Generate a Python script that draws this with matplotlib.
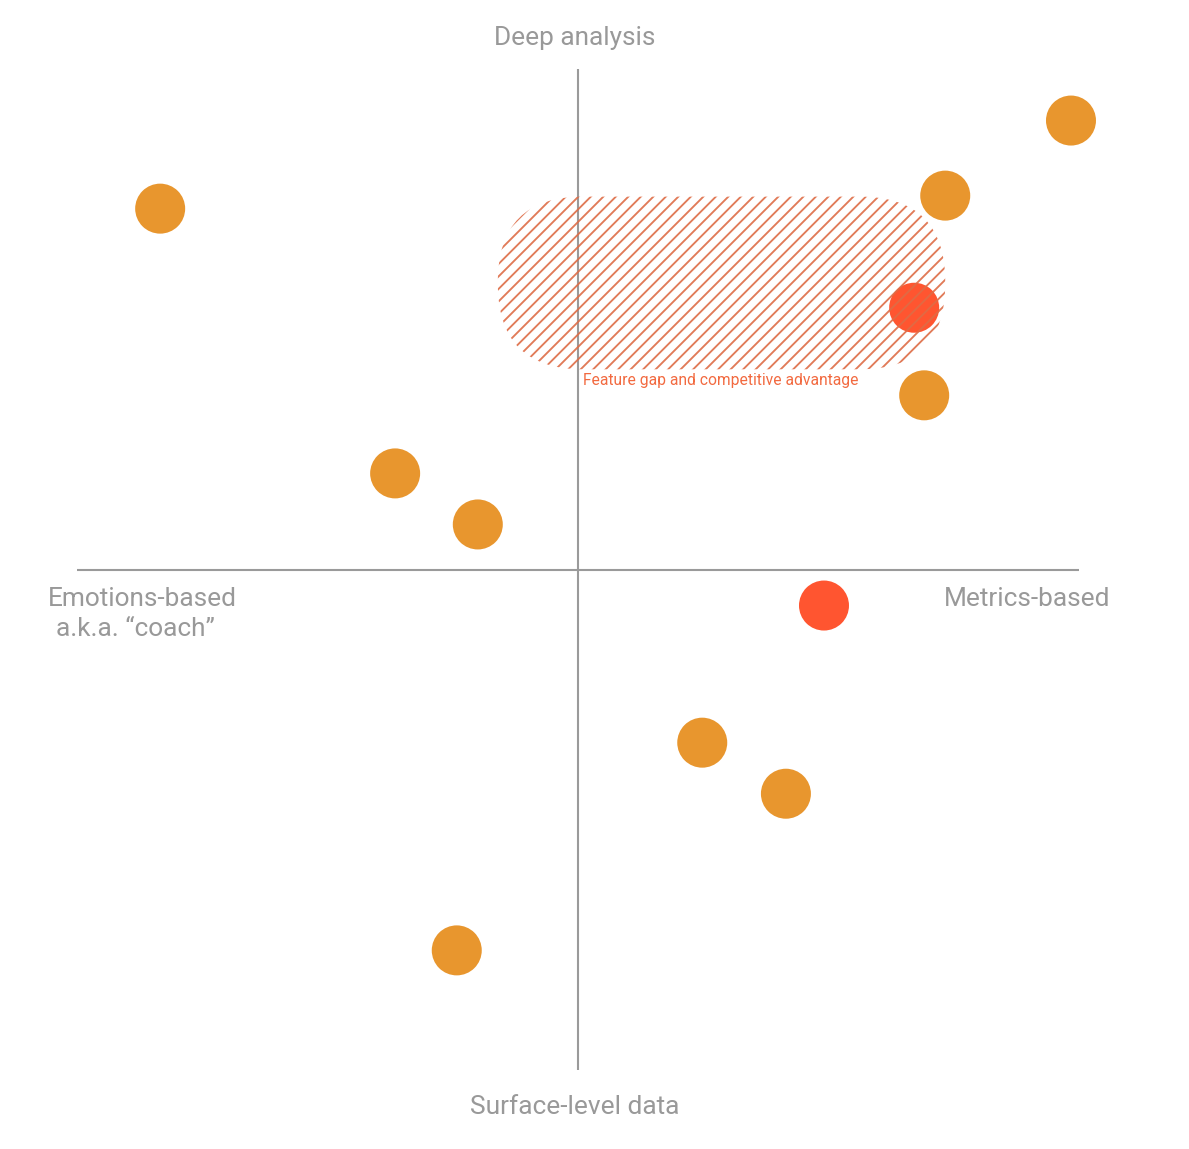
import matplotlib
matplotlib.use("Agg")
import matplotlib.pyplot as plt
from matplotlib.patches import FancyBboxPatch

plt.rcParams['font.family'] = ['Roboto', 'DejaVu Sans']
plt.rcParams['hatch.linewidth'] = 0.9

# Data (x: emotions(-) .. metrics(+), y: surface(-) .. deep(+))
orange_x = [-0.834, 0.984, 0.733, 0.691, -0.365, -0.200, 0.248, 0.415, -0.242]
orange_y = [0.721, 0.897, 0.747, 0.348, 0.192, 0.090, -0.346, -0.448, -0.761]
red_x = [0.671, 0.491]
red_y = [0.523, -0.072]

# Highlighted region (x0, y0, width, height)
gap_region = (-0.160, 0.400, 0.893, 0.345)
gap_label = "Feature gap and competitive advantage"

top_label = "Deep analysis"
bottom_label = "Surface-level data"
left_label_1 = "Emotions-based"
left_label_2 = "a.k.a. \u201ccoach\u201d"
right_label = "Metrics-based"

DPI = 150
fig = plt.figure(figsize=(1189 / DPI, 1149 / DPI), dpi=DPI)
ax = fig.add_axes([77 / 1189, (1149 - 1070) / 1149, 1002 / 1189, 1001 / 1149])
ax.set_xlim(-1, 1)
ax.set_ylim(-1, 1)
ax.axis('off')

axis_color = '#9a9a9a'
ax.plot([-1, 1], [0, 0], color=axis_color, lw=1.0, zorder=1, solid_capstyle='butt')
ax.plot([0, 0], [-1, 1], color=axis_color, lw=1.0, zorder=1, solid_capstyle='butt')

dot_size = (50 * 72 / DPI) ** 2
ax.scatter(orange_x, orange_y, s=dot_size, color='#E8962E', edgecolors='none', zorder=3, clip_on=False)
ax.scatter(red_x, red_y, s=dot_size, color='#FF5530', edgecolors='none', zorder=3, clip_on=False)

x0, y0, w, h = gap_region
patch = FancyBboxPatch((x0, y0), w, h, boxstyle="round,pad=0,rounding_size=0.17",
                       facecolor='none', edgecolor='#DE6C46', linewidth=0,
                       hatch='////', alpha=0.9, zorder=4)
ax.add_patch(patch)
ax.text(0.01, 0.378, gap_label, color='#F26A40', fontsize=7.5, ha='left', va='center', zorder=5)

txt_color = '#999999'
fs = 12.6
ax.text(-0.006, 1.061, top_label, color=txt_color, fontsize=fs, ha='center', va='center', clip_on=False)
ax.text(-0.006, -1.073, bottom_label, color=txt_color, fontsize=fs, ha='center', va='center', clip_on=False)
ax.text(-0.870, -0.058, left_label_1, color=txt_color, fontsize=fs, ha='center', va='center', clip_on=False)
ax.text(-0.883, -0.118, left_label_2, color=txt_color, fontsize=fs, ha='center', va='center', clip_on=False)
ax.text(0.896, -0.058, right_label, color=txt_color, fontsize=fs, ha='center', va='center', clip_on=False)

fig.savefig('out.png', dpi=DPI, facecolor='white')
